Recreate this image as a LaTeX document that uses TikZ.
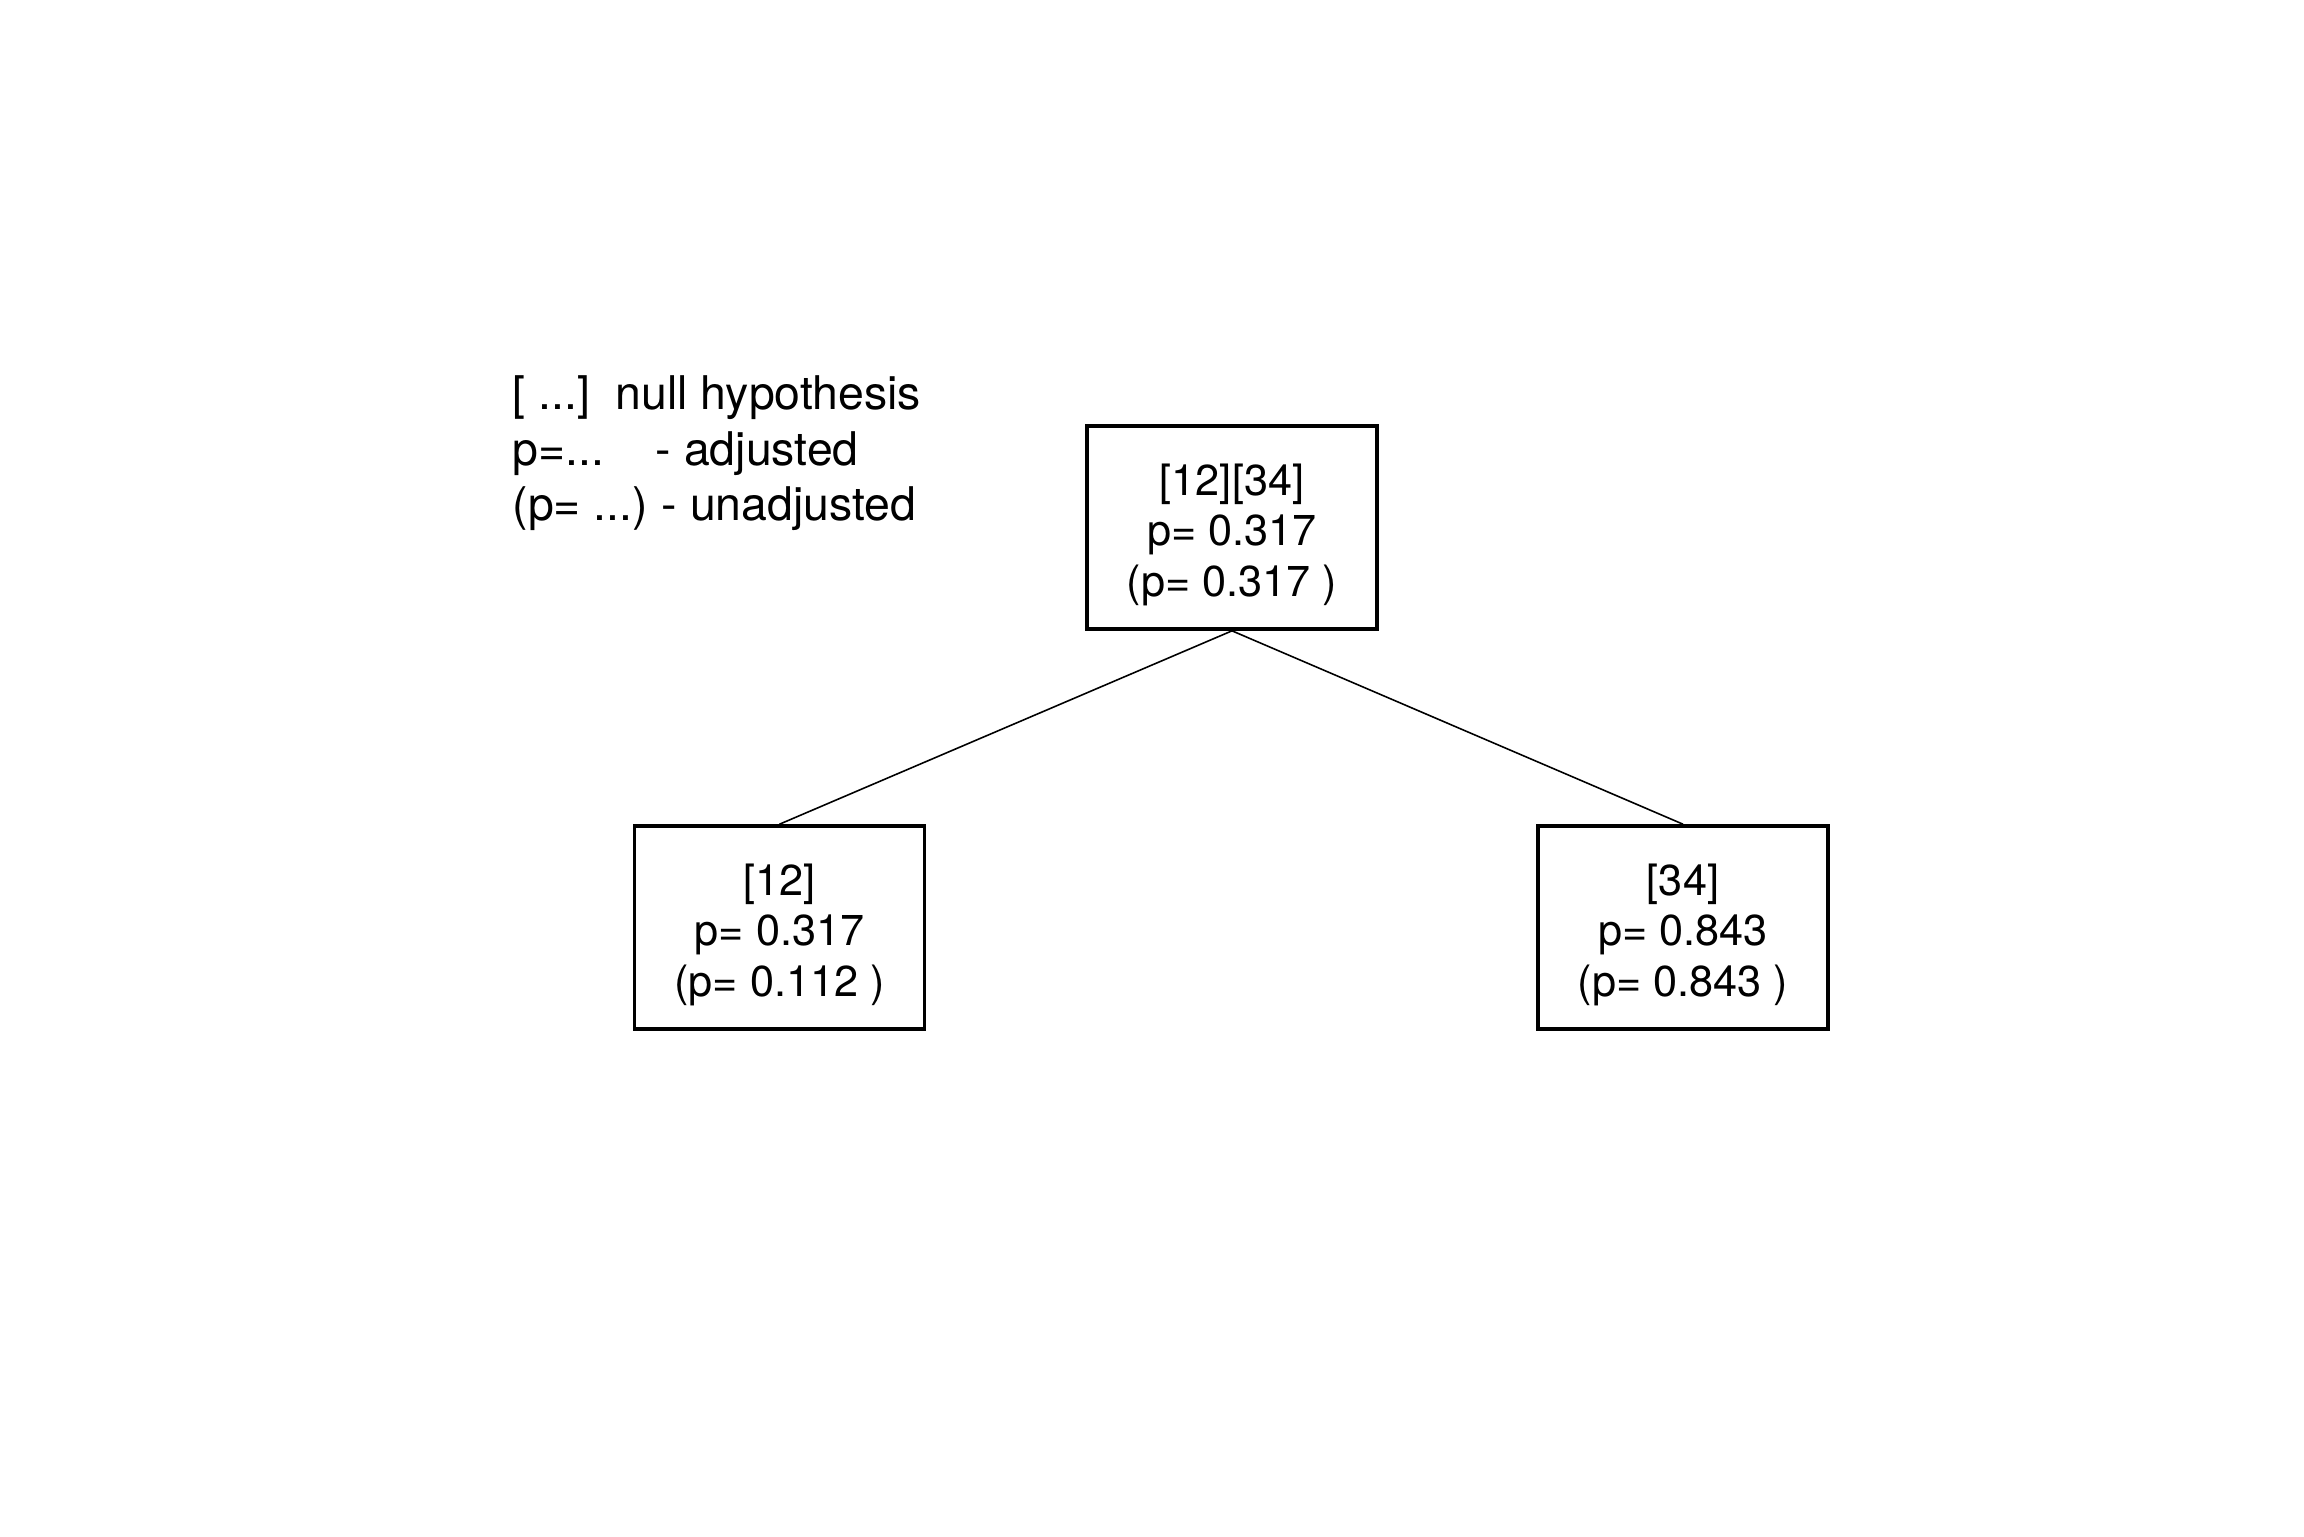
\documentclass[tikz,border=0pt]{standalone}
\usepackage{fontspec}
\setmainfont{TeX Gyre Heros}
\newcommand{\toppad}{\rule{0pt}{13pt}}
\begin{document}
\begin{tikzpicture}[x=0.01cm,y=-0.01cm,
  testbox/.style={draw,line width=1pt,minimum width=2.9cm,minimum height=2.03cm,
    inner sep=0pt,align=center,font=\fontsize{12.3}{14.4}\selectfont},
  legendline/.style={anchor=base west,inner sep=0pt,font=\fontsize{13.2}{15.8}\selectfont},
  edge/.style={line width=0.45pt}]
\useasboundingbox[fill=white] (0,0) rectangle (2304,1536);
\node[legendline] (leg1) at (512,409) {\makebox[1.03cm][l]{[ ...]}null hypothesis};
\node[legendline] (leg2) at (512,465) {\makebox[1.43cm][l]{p=...}- adjusted};
\node[legendline] (leg3) at (512,520) {(p= ...)\hspace{-1pt} - unadjusted};
\node[testbox] (root) at (1232,527.5) {\toppad[12][34]\\p= 0.317\\(p= 0.317 )};
\node[testbox] (left) at (779.5,927.5) {\toppad[12]\\p= 0.317\\(p= 0.112 )};
\node[testbox] (right) at (1683,927.5) {\toppad[34]\\p= 0.843\\(p= 0.843 )};
\draw[edge] (root.south) -- (left.north);
\draw[edge] (root.south) -- (right.north);
\end{tikzpicture}
\end{document}
